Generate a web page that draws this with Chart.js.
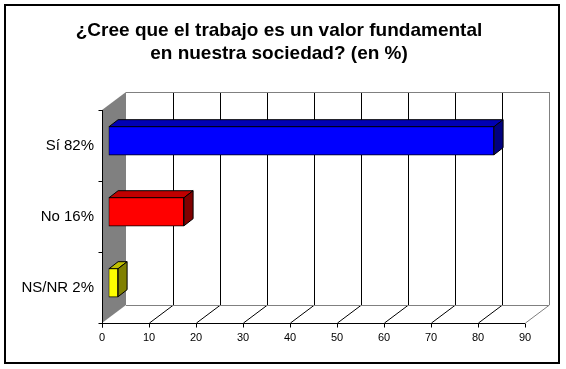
<!DOCTYPE html>
<html>
<head>
<meta charset="utf-8">
<script src="https://cdn.jsdelivr.net/npm/chart.js@4/dist/chart.umd.min.js"></script>
<style>
html,body{margin:0;padding:0;background:#fff;}
canvas{display:block;}
</style>
</head>
<body>
<canvas id="c" width="566" height="369"></canvas>
<script>
// ---- data ----
const categories = ['Sí 82%', 'No 16%', 'NS/NR 2%'];
const values = [82, 16, 2];
const xTicks = [0, 10, 20, 30, 40, 50, 60, 70, 80, 90];
const titleLines = ['¿Cree que el trabajo es un valor fundamental', 'en nuestra sociedad? (en %)'];

// ---- styles ----
const frontColors = ['#0000FF', '#FF0000', '#FFFF00'];
const topColors = ['#0000B4', '#C00000', '#C0C000'];
const sideColors = ['#000080', '#800000', '#808000'];
const FONT = '"Liberation Sans", Arial, sans-serif';
const WALL = {dx: 24, dy: -18};      // depth of the back wall
const BAR_OFF = {dx: 6.6, dy: -4.8}; // bar front plane offset
const BAR_D = {dx: 9, dy: -7};       // bar depth

const threeD = {
  id: 'threeD',
  beforeDraw(chart) {
    const ctx = chart.ctx;
    ctx.save();
    ctx.fillStyle = '#fff';
    ctx.fillRect(0, 0, chart.width, chart.height);
    ctx.strokeStyle = '#000';
    ctx.lineWidth = 2;
    ctx.strokeRect(5, 5, 554, 358);
    // title
    ctx.fillStyle = '#000';
    ctx.font = 'bold 19px ' + FONT;
    ctx.textAlign = 'center';
    ctx.textBaseline = 'alphabetic';
    ctx.fillText(titleLines[0], 279, 36);
    ctx.fillText(titleLines[1], 279, 59);
    ctx.restore();
  },
  beforeDatasetsDraw(chart) {
    const ctx = chart.ctx;
    const xs = chart.scales.x;
    const a = chart.chartArea;
    const L = xs.getPixelForValue(xTicks[0]);
    const R = xs.getPixelForValue(xTicks[xTicks.length - 1]);
    const T = a.top, B = a.bottom;
    ctx.save();
    // gray side wall
    ctx.fillStyle = '#808080';
    ctx.beginPath();
    ctx.moveTo(L, T);
    ctx.lineTo(L + WALL.dx, T + WALL.dy);
    ctx.lineTo(L + WALL.dx, B + WALL.dy);
    ctx.lineTo(L, B);
    ctx.closePath();
    ctx.fill();
    ctx.lineWidth = 1;
    // back gridlines and floor lines
    xTicks.forEach((v, i) => {
      if (i === 0) return;
      const px = Math.round(xs.getPixelForValue(v)) + 0.5;
      const last = i === xTicks.length - 1;
      ctx.strokeStyle = last ? '#808080' : '#000';
      ctx.beginPath();
      ctx.moveTo(px + WALL.dx, T + WALL.dy);
      ctx.lineTo(px + WALL.dx, B + WALL.dy);
      ctx.stroke();
      ctx.beginPath();
      ctx.moveTo(px, B);
      ctx.lineTo(px + WALL.dx, B + WALL.dy);
      ctx.stroke();
    });
    // back plane top and floor edge
    ctx.strokeStyle = '#808080';
    ctx.beginPath();
    ctx.moveTo(L + WALL.dx, Math.round(T + WALL.dy) + 0.5);
    ctx.lineTo(R + WALL.dx, Math.round(T + WALL.dy) + 0.5);
    ctx.moveTo(L + WALL.dx, Math.round(B + WALL.dy) + 0.5);
    ctx.lineTo(R + WALL.dx, Math.round(B + WALL.dy) + 0.5);
    ctx.stroke();
    // front axes
    ctx.strokeStyle = '#000';
    const lx = Math.round(L) + 0.5, by = Math.round(B) + 0.5;
    ctx.beginPath();
    ctx.moveTo(lx, T);
    ctx.lineTo(lx, by + 4);
    ctx.moveTo(lx - 4, by);
    ctx.lineTo(R, by);
    const n = categories.length;
    for (let i = 0; i < n; i++) {
      const y0 = Math.round(T + (B - T) * i / n) + 0.5;
      ctx.moveTo(lx - 4, y0);
      ctx.lineTo(lx, y0);
    }
    xTicks.forEach((v) => {
      const px = Math.round(xs.getPixelForValue(v)) + 0.5;
      ctx.moveTo(px, by);
      ctx.lineTo(px, by + 4);
    });
    ctx.stroke();
    ctx.restore();
  },
  beforeDatasetDraw(chart) {
    chart.ctx.save();
    chart.ctx.translate(BAR_OFF.dx, BAR_OFF.dy);
  },
  afterDatasetDraw(chart, args) {
    const ctx = chart.ctx;
    const meta = args.meta;
    meta.data.forEach((el, i) => {
      const p = el.getProps(['x', 'y', 'base', 'height'], true);
      const x0 = Math.round(p.base) + 0.5, x1 = Math.round(p.x) + 0.5;
      const y0 = Math.round(p.y - p.height / 2) + 0.5, y1 = Math.round(p.y + p.height / 2) - 0.5;
      ctx.lineWidth = 1;
      ctx.strokeStyle = '#000';
      ctx.fillStyle = topColors[i];
      ctx.beginPath();
      ctx.moveTo(x0, y0);
      ctx.lineTo(x0 + BAR_D.dx, y0 + BAR_D.dy);
      ctx.lineTo(x1 + BAR_D.dx, y0 + BAR_D.dy);
      ctx.lineTo(x1, y0);
      ctx.closePath();
      ctx.fill();
      ctx.stroke();
      ctx.fillStyle = sideColors[i];
      ctx.beginPath();
      ctx.moveTo(x1, y0);
      ctx.lineTo(x1 + BAR_D.dx, y0 + BAR_D.dy);
      ctx.lineTo(x1 + BAR_D.dx, y1 + BAR_D.dy);
      ctx.lineTo(x1, y1);
      ctx.closePath();
      ctx.fill();
      ctx.stroke();
    });
    ctx.restore();
  }
};

new Chart(document.getElementById('c'), {
  type: 'bar',
  data: {
    labels: categories,
    datasets: [{
      data: values,
      backgroundColor: frontColors,
      borderColor: '#000',
      borderWidth: 1,
      borderSkipped: false,
      barThickness: 29
    }]
  },
  options: {
    indexAxis: 'y',
    responsive: false,
    animation: false,
    devicePixelRatio: 1,
    layout: {padding: {left: 0, right: 41, top: 110, bottom: 0}},
    plugins: {
      legend: {display: false},
      tooltip: {enabled: false},
      title: {display: false}
    },
    scales: {
      x: {
        type: 'linear',
        min: 0, max: 90,
        afterBuildTicks(s) { s.ticks = xTicks.map(v => ({value: v})); },
        afterFit(s) { s.height = 46; },
        grid: {display: false, drawTicks: false},
        border: {display: false},
        ticks: {color: '#000', padding: 8, font: {family: FONT, size: 11}}
      },
      y: {
        afterFit(s) { s.width = 102; },
        grid: {display: false, drawTicks: false},
        border: {display: false},
        ticks: {color: '#000', padding: 8, font: {family: FONT, size: 15}}
      }
    }
  },
  plugins: [threeD]
});
</script>
</body>
</html>
